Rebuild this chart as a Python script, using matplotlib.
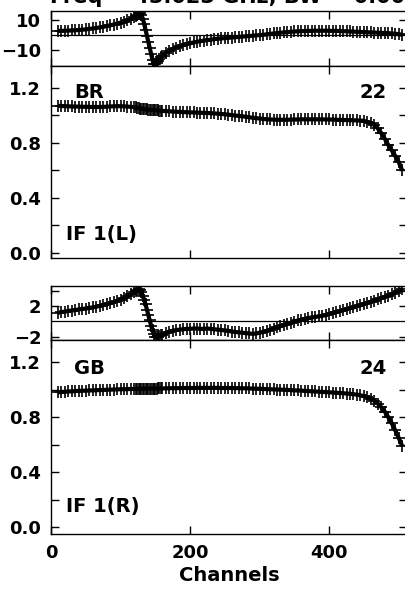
import numpy as np
import matplotlib
matplotlib.use('Agg')
import matplotlib.pyplot as plt

# Каналы (плотнее в районе скачка фазы)
chan = (list(range(10, 120, 5)) + list(range(120, 160, 2)) + list(range(160, 510, 5)))

# Фаза, IF 1(L), градусы
phase_l = [2.8, 2.8, 2.9, 3.0, 3.1, 3.2, 3.4, 3.6, 3.8, 4.1, 4.4, 4.7, 5.1, 5.5, 6.0, 6.5, 7.0, 7.6, 8.3, 9.0, 9.8, 10.7,
           11.8, 12.4, 13.2, 14.2, 14.8, 13.5, 11.0, 7.5, 3.5, -0.5, -4.5, -8.5, -12.5, -16.5, -19.3, -19.5, -18.3, -17.0, -15.8, -14.8,
           -13.8, -12.0, -10.5, -9.3, -8.3, -7.4, -6.7, -6.0, -5.4, -4.9, -4.4, -4.0, -3.6, -3.3, -3.0, -2.7, -2.4, -2.2, -2.0, -1.8,
           -1.6, -1.4, -1.2, -1.0, -0.8, -0.6, -0.4, -0.2, 0.0, 0.2, 0.5, 0.8, 1.1, 1.3, 1.6, 1.8, 2.0, 2.2, 2.4, 2.5,
           2.6, 2.7, 2.8, 2.8, 2.9, 2.9, 2.9, 2.9, 2.9, 2.8, 2.8, 2.7, 2.6, 2.5, 2.4, 2.3, 2.2, 2.1, 2.0, 1.9,
           1.8, 1.7, 1.6, 1.5, 1.4, 1.3, 1.1, 0.9, 0.6, 0.3]

# Амплитуда, IF 1(L)
amp_l = [1.070, 1.068, 1.067, 1.066, 1.065, 1.064, 1.064, 1.063, 1.062, 1.062, 1.061, 1.061, 1.061, 1.062, 1.063, 1.065,
         1.066, 1.067, 1.067, 1.066, 1.064, 1.062,
         1.060, 1.058, 1.056, 1.053, 1.050, 1.048, 1.046, 1.045, 1.044, 1.043, 1.042, 1.041, 1.040, 1.040, 1.039, 1.038,
         1.037, 1.036, 1.035, 1.034,
         1.033, 1.031, 1.030, 1.028, 1.027, 1.025, 1.024, 1.023, 1.022, 1.021, 1.020, 1.019, 1.018, 1.017, 1.016, 1.014,
         1.012, 1.010, 1.008, 1.005, 1.002, 0.999, 0.996, 0.993, 0.990, 0.986, 0.983, 0.980, 0.977, 0.974, 0.972, 0.970,
         0.969, 0.968, 0.968, 0.968, 0.968, 0.969, 0.970, 0.970, 0.971, 0.971, 0.971, 0.971, 0.971, 0.971, 0.971, 0.970,
         0.970, 0.969, 0.968, 0.967, 0.966, 0.966, 0.965, 0.964, 0.963, 0.962, 0.960, 0.952, 0.943, 0.930, 0.905,
         0.870, 0.830, 0.785, 0.745, 0.705, 0.660, 0.600]

# Фаза, IF 1(R)
phase_r = [1.1, 1.2, 1.25, 1.35, 1.4, 1.45, 1.55, 1.6, 1.65, 1.75, 1.8, 1.9, 2.0, 2.1, 2.2, 2.35, 2.5, 2.65, 2.8, 3.0, 3.25, 3.5,
           3.8, 3.95, 4.1, 4.2, 4.1, 3.8, 3.3, 2.8, 2.2, 1.5, 0.8, 0.1, -0.6, -1.2, -1.7, -2.0, -2.1, -2.05, -1.95, -1.85,
           -1.75, -1.55, -1.35, -1.25, -1.15, -1.1, -1.05, -1.0, -1.0, -0.95, -0.95, -1.0, -1.0, -0.95, -1.0, -1.05,
           -1.1, -1.15, -1.2, -1.25, -1.35, -1.4, -1.45, -1.5, -1.55, -1.6, -1.65, -1.6, -1.5, -1.4, -1.25, -1.1,
           -0.95, -0.8, -0.65, -0.5, -0.35, -0.2, -0.05, 0.1, 0.2, 0.3, 0.4, 0.5, 0.55, 0.65, 0.7, 0.8,
           0.95, 1.05, 1.2, 1.3, 1.45, 1.55, 1.7, 1.8, 1.95, 2.1, 2.25, 2.4, 2.55, 2.7, 2.85, 3.0,
           3.2, 3.35, 3.55, 3.75, 3.95, 4.2]

# Амплитуда, IF 1(R)
amp_r = [0.980, 0.982, 0.984, 0.986, 0.987, 0.989, 0.990, 0.991, 0.992, 0.993, 0.994, 0.995, 0.996, 0.997, 0.998, 0.999,
         1.000, 1.001, 1.002, 1.002, 1.003, 1.004,
         1.004, 1.004, 1.005, 1.005, 1.005, 1.005, 1.006, 1.006, 1.006, 1.006, 1.006, 1.007, 1.007, 1.007, 1.007, 1.007,
         1.007, 1.008, 1.008, 1.008,
         1.008, 1.009, 1.009, 1.010, 1.010, 1.010, 1.011, 1.011, 1.011, 1.011, 1.012, 1.012, 1.012, 1.012, 1.012, 1.012,
         1.012, 1.011, 1.011, 1.011, 1.011, 1.010, 1.010, 1.009, 1.009, 1.008, 1.007, 1.006, 1.005, 1.004, 1.003, 1.002,
         1.001, 1.000, 0.999, 0.998, 0.997, 0.996, 0.994, 0.993, 0.992, 0.990, 0.989, 0.987, 0.986, 0.984, 0.983, 0.981,
         0.980, 0.978, 0.976, 0.975, 0.973, 0.971, 0.969, 0.966, 0.963, 0.958, 0.952, 0.944, 0.933, 0.918, 0.898,
         0.872, 0.840, 0.800, 0.755, 0.705, 0.650, 0.590]

# подписи
title = 'Freq = 43.023 GHz, BW = 0.000 MHz'
base_l, ant_l, if_l = 'BR', '22', 'IF 1(L)'
base_r, ant_r, if_r = 'GB', '24', 'IF 1(R)'

plt.rcParams['font.family'] = 'DejaVu Sans'
plt.rcParams['font.weight'] = 'bold'

W, H = 406, 593
fig = plt.figure(figsize=(W / 100, H / 100), dpi=100)


def px_axes(top, bottom, left=51, right=407):
    return fig.add_axes([left / W, 1 - bottom / H, (right - left) / W, (bottom - top) / H])


def style(ax, xlabels=False):
    ax.set_xlim(0, 512)
    ax.set_xticks([0, 200, 400])
    ax.tick_params(direction='in', length=6, width=1, top=True, right=True,
                   labelsize=13, pad=7)
    ax.tick_params(which='minor', direction='in', length=6, width=1, right=True)
    if not xlabels:
        ax.tick_params(labelbottom=False)
    for s in ax.spines.values():
        s.set_linewidth(1.0)


def draw(ax, y):
    # толстая полоса из крестиков
    ax.plot(chan, y, color='black', lw=3.0, solid_capstyle='butt')
    ax.plot(chan, y, marker='+', ls='none', color='black', ms=8, mew=1.2)


ax1 = px_axes(11, 66)
draw(ax1, phase_l)
ax1.axhline(0, color='black', lw=0.9)
ax1.set_ylim(-20.5, 16)
ax1.set_yticks([-10, 10])
style(ax1)

ax2 = px_axes(66, 258)
draw(ax2, amp_l)
ax2.set_ylim(-0.04, 1.36)
ax2.set_yticks([0.0, 0.4, 0.8, 1.2])
ax2.set_yticklabels(['0.0', '0.4', '0.8', '1.2'])
ax2.set_yticks([0.2, 0.6, 1.0], minor=True)
style(ax2)
ax2.text(33, 1.13, base_l, fontsize=14, fontweight='bold')
ax2.text(483, 1.13, ant_l, fontsize=14, fontweight='bold', ha='right')
ax2.text(22, 0.092, if_l, fontsize=14, fontweight='bold')

ax3 = px_axes(286, 340)
draw(ax3, phase_r)
ax3.axhline(0, color='black', lw=0.9)
ax3.set_ylim(-2.45, 4.6)
ax3.set_yticks([-2, 2])
ax3.set_yticks([4], minor=True)
style(ax3)

ax4 = px_axes(340, 534)
draw(ax4, amp_r)
ax4.set_ylim(-0.05, 1.36)
ax4.set_yticks([0.0, 0.4, 0.8, 1.2])
ax4.set_yticklabels(['0.0', '0.4', '0.8', '1.2'])
ax4.set_yticks([0.2, 0.6, 1.0], minor=True)
style(ax4, xlabels=True)
ax4.set_xlabel('Channels', fontsize=14, fontweight='bold', labelpad=3)
ax4.text(33, 1.116, base_r, fontsize=14, fontweight='bold')
ax4.text(483, 1.116, ant_r, fontsize=14, fontweight='bold', ha='right')
ax4.text(22, 0.109, if_r, fontsize=14, fontweight='bold')

# заголовок обрезан сверху, как в исходнике
fig.text(50 / W, 1 - 3 / H, title, fontsize=15, fontweight='bold', va='baseline')

fig.savefig('out.png', dpi=100)
